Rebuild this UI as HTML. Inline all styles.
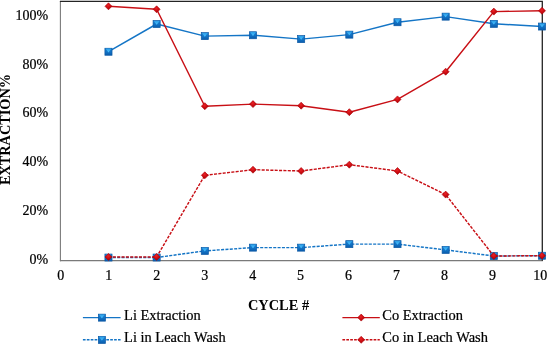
<!DOCTYPE html>
<html><head><meta charset="utf-8"><title>Extraction chart</title>
<style>
html,body{margin:0;padding:0;background:#fff;}
body{width:547px;height:345px;overflow:hidden;font-family:"Liberation Serif",serif;}
svg{display:block;will-change:transform;}
text{font-family:"Liberation Serif",serif;fill:#000;}
.t{font-size:14px;stroke:#000;stroke-width:0.22px;}
.l{font-size:14.67px;stroke:#000;stroke-width:0.22px;}
.b{font-size:14.67px;font-weight:bold;}
</style></head><body>
<svg width="547" height="345" viewBox="0 0 547 345">
<defs>
<linearGradient id="gb" x1="0" y1="0" x2="0" y2="1">
<stop offset="0" stop-color="#1a80d2"/><stop offset="0.55" stop-color="#1272c4"/><stop offset="1" stop-color="#0a5cac"/>
</linearGradient>
<linearGradient id="gt" x1="0" y1="0" x2="0" y2="1">
<stop offset="0" stop-color="#2a9ce6"/><stop offset="1" stop-color="#4ec4ff"/>
</linearGradient>
<radialGradient id="gr" cx="0.45" cy="0.36" r="0.68">
<stop offset="0" stop-color="#ea2226"/><stop offset="0.55" stop-color="#c80a10"/><stop offset="1" stop-color="#980002"/>
</radialGradient>
<g id="sq">
<rect x="-3.55" y="-3.45" width="7.1" height="7.0" fill="url(#gb)" stroke="#0a58a4" stroke-width="0.7"/>
<path d="M-3.0,-3.1 L3.0,-3.1 L0,0.7 Z" fill="url(#gt)"/>
</g>
<g id="di">
<path d="M0,-3.5 L3.5,0 L0,3.5 L-3.5,0 Z" fill="url(#gr)" stroke="#b00006" stroke-width="0.6"/>
</g>
</defs>
<rect width="547" height="345" fill="#fff"/>

<line x1="60.4" y1="1" x2="60.4" y2="261.2" stroke="#7a7a7a" stroke-width="1.1"/>
<line x1="59.9" y1="260.65" x2="542.95" y2="260.65" stroke="#7a7a7a" stroke-width="1.1"/>
<path d="M59.9,1.3 H542.3 V260.65" fill="none" stroke="#242424" stroke-width="1.3"/>
<polyline points="108.47,51.70 156.64,24.00 204.81,36.10 252.98,35.20 301.15,39.10 349.32,34.60 397.49,22.20 445.66,16.60 493.83,23.80 542.00,26.50" fill="none" stroke="#1475c6" stroke-width="1.45" stroke-linejoin="round"/>
<use href="#sq" x="108.47" y="51.70"/><use href="#sq" x="156.64" y="24.00"/><use href="#sq" x="204.81" y="36.10"/><use href="#sq" x="252.98" y="35.20"/><use href="#sq" x="301.15" y="39.10"/><use href="#sq" x="349.32" y="34.60"/><use href="#sq" x="397.49" y="22.20"/><use href="#sq" x="445.66" y="16.60"/><use href="#sq" x="493.83" y="23.80"/><use href="#sq" x="542.00" y="26.50"/>
<polyline points="108.47,6.30 156.64,9.30 204.81,106.20 252.98,104.10 301.15,105.70 349.32,112.20 397.49,99.40 445.66,71.70 493.83,11.60 542.00,10.80" fill="none" stroke="#c80f15" stroke-width="1.45" stroke-linejoin="round"/>
<use href="#di" x="108.47" y="6.30"/><use href="#di" x="156.64" y="9.30"/><use href="#di" x="204.81" y="106.20"/><use href="#di" x="252.98" y="104.10"/><use href="#di" x="301.15" y="105.70"/><use href="#di" x="349.32" y="112.20"/><use href="#di" x="397.49" y="99.40"/><use href="#di" x="445.66" y="71.70"/><use href="#di" x="493.83" y="11.60"/><use href="#di" x="542.00" y="10.80"/>
<polyline points="108.47,257.50 156.64,257.50 204.81,250.90 252.98,247.60 301.15,247.60 349.32,244.10 397.49,244.10 445.66,249.90 493.83,256.00 542.00,255.70" fill="none" stroke="#1475c6" stroke-width="1.45" stroke-linejoin="round" stroke-dasharray="3.05 1.3"/>
<use href="#sq" x="108.47" y="257.50"/><use href="#sq" x="156.64" y="257.50"/><use href="#sq" x="204.81" y="250.90"/><use href="#sq" x="252.98" y="247.60"/><use href="#sq" x="301.15" y="247.60"/><use href="#sq" x="349.32" y="244.10"/><use href="#sq" x="397.49" y="244.10"/><use href="#sq" x="445.66" y="249.90"/><use href="#sq" x="493.83" y="256.00"/><use href="#sq" x="542.00" y="255.70"/>
<polyline points="108.47,256.90 156.64,256.90 204.81,175.30 252.98,169.70 301.15,171.00 349.32,164.70 397.49,171.00 445.66,194.60 493.83,256.00 542.00,255.70" fill="none" stroke="#c80f15" stroke-width="1.45" stroke-linejoin="round" stroke-dasharray="3.05 1.3"/>
<use href="#di" x="108.47" y="256.90"/><use href="#di" x="156.64" y="256.90"/><use href="#di" x="204.81" y="175.30"/><use href="#di" x="252.98" y="169.70"/><use href="#di" x="301.15" y="171.00"/><use href="#di" x="349.32" y="164.70"/><use href="#di" x="397.49" y="171.00"/><use href="#di" x="445.66" y="194.60"/><use href="#di" x="493.83" y="256.00"/><use href="#di" x="542.00" y="255.70"/>
<text class="t" x="48.2" y="264" text-anchor="end">0%</text>
<text class="t" x="48.2" y="215" text-anchor="end">20%</text>
<text class="t" x="48.2" y="166" text-anchor="end">40%</text>
<text class="t" x="48.2" y="117" text-anchor="end">60%</text>
<text class="t" x="48.2" y="69" text-anchor="end">80%</text>
<text class="t" x="48.2" y="20" text-anchor="end">100%</text>
<text class="t" x="60.85" y="280" text-anchor="middle">0</text>
<text class="t" x="108.80" y="280" text-anchor="middle">1</text>
<text class="t" x="156.75" y="280" text-anchor="middle">2</text>
<text class="t" x="204.70" y="280" text-anchor="middle">3</text>
<text class="t" x="252.65" y="280" text-anchor="middle">4</text>
<text class="t" x="300.60" y="280" text-anchor="middle">5</text>
<text class="t" x="348.55" y="280" text-anchor="middle">6</text>
<text class="t" x="396.50" y="280" text-anchor="middle">7</text>
<text class="t" x="444.45" y="280" text-anchor="middle">8</text>
<text class="t" x="492.40" y="280" text-anchor="middle">9</text>
<text class="t" x="540.35" y="280" text-anchor="middle">10</text>
<text class="b" style="font-size:14.4px" x="278.5" y="310" text-anchor="middle">CYCLE #</text>
<text class="b" transform="translate(10.4,185.1) rotate(-90) scale(0.975,1.06)">EXTRACTION%</text>
<line x1="82.9" y1="317.6" x2="120.6" y2="317.6" stroke="#1475c6" stroke-width="1.45"/><use href="#sq" x="101.90" y="317.60"/>
<line x1="82.9" y1="339.7" x2="120.6" y2="339.7" stroke="#1475c6" stroke-width="1.45" stroke-dasharray="2.7 1.2"/><use href="#sq" x="101.90" y="339.90"/>
<line x1="342.4" y1="317.6" x2="379.8" y2="317.6" stroke="#c80f15" stroke-width="1.45"/><use href="#di" x="361.20" y="317.60"/>
<line x1="342.4" y1="339.7" x2="379.8" y2="339.7" stroke="#c80f15" stroke-width="1.45" stroke-dasharray="2.7 1.2"/><use href="#di" x="361.20" y="339.80"/>
<text class="l" transform="translate(124.1,320) scale(0.985,1.02)">Li Extraction</text>
<text class="l" transform="translate(124.1,342) scale(0.985,1.02)">Li in Leach Wash</text>
<text class="l" transform="translate(382.3,320) scale(0.985,1.02)">Co Extraction</text>
<text class="l" transform="translate(382.3,342) scale(0.985,1.02)">Co in Leach Wash</text>
</svg></body></html>
